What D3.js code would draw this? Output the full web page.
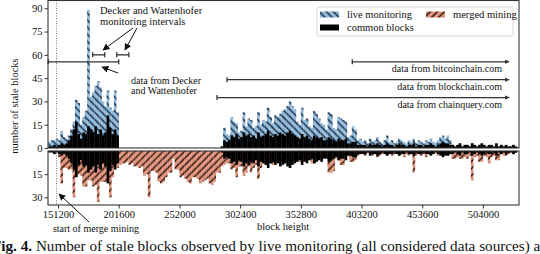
<!DOCTYPE html>
<html lang="en">
<head>
<meta charset="UTF-8">
<title>Stale blocks</title>
<script src="https://cdnjs.cloudflare.com/ajax/libs/d3/7.8.5/d3.min.js"></script>
<style>
    body { margin: 0; padding: 0; background: #fff; overflow: hidden; }
    svg { display: block; font-family: "Liberation Serif", "DejaVu Serif", serif; }
</style>
</head>
<body>
<div id="chart"></div>
<script>
    // bins of one difficulty period (2016 blocks), first bin starts at block 143136
    const binStart = 143136;
    const binSize = 2016;

    // stale blocks seen by live monitoring (per bin)
    const liveMonitoring = [
        4,5,5,6,5,11,7,6,8,12,17,31,29,15,20,24,89,33,36,40,43,39,30,27,37,26,24,37,23,
        0,0,0,0,0,0,0,0,0,0,0,0,0,0,0,0,0,0,0,0,0,0,0,0,0,0,0,0,0,0,0,0,0,0,0,0,0,0,0,0,0,0,
        1,13,9,8,20,17,16,10,11,23,14,19,18,13,14,23,15,18,17,26,20,16,21,20,22,24,25,27,30,27,
        25,17,15,26,18,19,14,13,24,22,19,16,15,12,23,22,13,12,20,19,18,17,7,8,14,12,5,6,
        4,5,3,6,4,5,7,4,3,5,8,4,5,3,4,6,5,4,3,5,4,6,3,5,4,3,5,4,6,4,3,5,7,8,6,8,5,
        2,1,2,3,1,2,2,1,3,2,1,2,3,2,1,2,2,1,3,1,2,1,2,1,1,2,1
    ];
    // blocks found in both data sets
    const commonBlocks = [
        1,1,2,1,2,3,2,3,5,8,12,17,9,6,10,9,14,12,10,14,9,12,8,10,21,13,9,12,8,
        0,0,0,0,0,0,0,0,0,0,0,0,0,0,0,0,0,0,0,0,0,0,0,0,0,0,0,0,0,0,0,0,0,0,0,0,0,0,0,0,0,0,
        1,5,4,5,8,7,9,6,7,10,8,9,7,8,6,10,7,8,9,11,8,7,9,8,10,9,8,10,11,9,
        8,7,6,9,7,8,6,5,8,7,6,7,5,5,7,6,5,4,6,5,5,6,3,3,4,4,2,2,
        2,2,1,3,2,2,3,2,1,2,3,2,2,1,2,3,2,2,1,2,2,3,1,2,2,1,2,2,3,2,1,2,3,4,3,3,2,
        2,1,2,3,1,2,2,1,3,2,1,2,3,2,1,2,2,1,3,1,2,1,2,1,1,2,1
    ];
    // stale blocks from merged mining
    const mergedMining = [
        0,0,0,0,
        4,21,11,11,12,12,30,16,15,16,23,23,19,19,23,22,33,20,20,20,17,30,17,11,11,
        9,8,8,7,9,8,10,10,11,10,16,15,30,13,13,14,20,21,20,17,14,14,5,12,12,17,16,18,20,21,
        17,17,18,21,20,19,18,21,22,20,14,14,
        10,9,8,8,12,11,17,10,10,16,14,10,14,11,9,18,11,8,8,7,8,9,7,7,6,7,8,6,5,5,
        6,5,7,5,5,5,4,8,8,4,4,5,3,4,14,14,13,5,6,9,9,4,3,7,7,6,3,2,
        2,3,1,2,3,2,4,3,2,1,3,2,3,2,2,3,2,4,2,3,2,
        14,
        3,2,3,2,4,2,3,2,1,3,2,3,2,3,2,
        5,5,4,5,5,4,5,3,19,4,3,7,7,3,4,8,4,3,6,6,2,3,3,2,1,2,1
    ];

    const xTicks = [151200, 201600, 252000, 302400, 352800, 403200, 453600, 504000];
    const yTopTicks = [0, 15, 30, 45, 60, 75, 90];
    const yBottomTicks = [15, 30];

    const mergeMiningStart = 150000;
    const deckerRange = [143136, 201600];
    const deckerIntervals = [[180000, 190000], [200000, 210000]];
    const sourceNames = ["data from bitcoinchain.com", "data from blockchain.com", "data from chainquery.com"];
    const sourceStarts = [395500, 291500, 283200];
    const sourceEnd = 524000;

    const width = 540, height = 254;
    const svg = d3.select("#chart").append("svg")
        .attr("width", width).attr("height", height);

    const x = d3.scaleLinear().domain([142900, 533900]).range([48, 519]);
    const yTop = d3.scaleLinear().domain([0, 95]).range([148, 0.5]);
    const yBot = d3.scaleLinear().domain([0, 35]).range([151, 205]);

    // hatch patterns
    const defs = svg.append("defs");
    function hatch(id, bg, fg, angle) {
        const p = defs.append("pattern").attr("id", id)
            .attr("patternUnits", "userSpaceOnUse")
            .attr("width", 5).attr("height", 5)
            .attr("patternTransform", `rotate(${angle})`);
        p.append("rect").attr("width", 5).attr("height", 5).attr("fill", bg);
        p.append("line").attr("x1", 2.5).attr("x2", 2.5).attr("y1", 0).attr("y2", 5)
            .attr("stroke", fg).attr("stroke-width", 1.5);
    }
    hatch("liveHatch", "#94bfdf", "#14223a", -45);
    hatch("mergeHatch", "#e6977f", "#2a1208", 45);
    defs.append("marker").attr("id", "arrow")
        .attr("viewBox", "0 0 10 10").attr("refX", 9).attr("refY", 5)
        .attr("markerWidth", 7).attr("markerHeight", 7).attr("orient", "auto")
        .append("path").attr("d", "M0,0 L10,5 L0,10 z").attr("fill", "#111");

    const bins = d3.range(liveMonitoring.length).map(i => ({
        b0: binStart + i * binSize,
        b1: binStart + (i + 1) * binSize,
        live: liveMonitoring[i],
        common: commonBlocks[i],
        merged: mergedMining[i]
    }));

    // top panel bars
    const topG = svg.append("g");
    topG.selectAll("rect.live").data(bins.filter(d => d.live > 0)).join("rect")
        .attr("x", d => x(d.b0)).attr("width", d => x(d.b1) - x(d.b0) + 0.2)
        .attr("y", d => yTop(d.live)).attr("height", d => yTop(0) - yTop(d.live))
        .attr("fill", "url(#liveHatch)");
    topG.selectAll("rect.common").data(bins.filter(d => d.common > 0)).join("rect")
        .attr("x", d => x(d.b0)).attr("width", d => x(d.b1) - x(d.b0) + 0.2)
        .attr("y", d => yTop(d.common)).attr("height", d => yTop(0) - yTop(d.common))
        .attr("fill", "#000");

    // bottom panel bars
    const botG = svg.append("g");
    botG.selectAll("rect.merged").data(bins.filter(d => d.merged > 0)).join("rect")
        .attr("x", d => x(d.b0)).attr("width", d => x(d.b1) - x(d.b0) + 0.2)
        .attr("y", yBot(0)).attr("height", d => yBot(d.merged) - yBot(0))
        .attr("fill", "url(#mergeHatch)");
    botG.selectAll("rect.common").data(bins.filter(d => d.common > 0)).join("rect")
        .attr("x", d => x(d.b0)).attr("width", d => x(d.b1) - x(d.b0) + 0.2)
        .attr("y", yBot(0)).attr("height", d => yBot(d.common) - yBot(0))
        .attr("fill", "#000");

    // start of merge mining (dotted)
    svg.append("line")
        .attr("x1", x(mergeMiningStart)).attr("x2", x(mergeMiningStart))
        .attr("y1", yTop(95)).attr("y2", yBot(35))
        .attr("stroke", "#777").attr("stroke-width", 1).attr("stroke-dasharray", "1,1.5");

    // frames
    const frameColor = "#333";
    svg.append("rect").attr("x", 48).attr("y", yTop(95)).attr("width", 471).attr("height", yTop(0) - yTop(95))
        .attr("fill", "none").attr("stroke", frameColor).attr("stroke-width", 1.1);
    svg.append("rect").attr("x", 48).attr("y", yBot(0)).attr("width", 471).attr("height", yBot(35) - yBot(0))
        .attr("fill", "none").attr("stroke", frameColor).attr("stroke-width", 1.1);

    // axes
    function styleAxis(g) {
        g.select(".domain").remove();
        g.selectAll("line").attr("stroke", frameColor).attr("stroke-width", 1);
        g.selectAll("text").attr("font-family", "Liberation Serif, serif").attr("font-size", 10.5).attr("fill", "#111");
    }
    svg.append("g").attr("transform", "translate(48,0)")
        .call(d3.axisLeft(yTop).tickValues(yTopTicks).tickSize(3.5).tickPadding(2))
        .call(styleAxis);
    svg.append("g").attr("transform", "translate(48,0)")
        .call(d3.axisLeft(yBot).tickValues(yBottomTicks).tickSize(3.5).tickPadding(2))
        .call(styleAxis);
    svg.append("g").attr("transform", `translate(0,${yBot(35)})`)
        .call(d3.axisBottom(x).tickValues(xTicks).tickFormat(d3.format("d")).tickSize(3.5).tickPadding(2))
        .call(styleAxis);

    svg.append("text").attr("transform", "translate(18,106) rotate(-90)")
        .attr("text-anchor", "middle").attr("font-size", 10.5).attr("fill", "#111")
        .text("number of stale blocks");
    svg.append("text").attr("x", 283).attr("y", 230)
        .attr("text-anchor", "middle").attr("font-size", 10.5).attr("fill", "#111")
        .text("block height");

    // range lines
    const ann = svg.append("g").attr("stroke", "#333").attr("stroke-width", 1.3);
    function rangeLine(b0, b1, v, capEnd) {
        const yy = yTop(v);
        ann.append("line").attr("x1", x(b0)).attr("x2", x(b1)).attr("y1", yy).attr("y2", yy);
        ann.append("line").attr("x1", x(b0)).attr("x2", x(b0)).attr("y1", yy - 2.5).attr("y2", yy + 2.5);
        if (capEnd) ann.append("line").attr("x1", x(b1)).attr("x2", x(b1)).attr("y1", yy - 2.5).attr("y2", yy + 2.5);
    }
    rangeLine(deckerRange[0], deckerRange[1], 55.5, true);
    deckerIntervals.forEach(iv => rangeLine(iv[0], iv[1], 60, true));
    const sourceLevels = [55.5, 44, 32.5];
    sourceNames.forEach((name, i) => {
        rangeLine(sourceStarts[i], sourceEnd, sourceLevels[i], false);
        ann.append("path")
            .attr("d", `M${x(sourceEnd) + 3},${yTop(sourceLevels[i])} l-5,-2 l0,4 z`)
            .attr("fill", "#333").attr("stroke", "none");
        svg.append("text").attr("x", 502).attr("y", yTop(sourceLevels[i]) + 10)
            .attr("text-anchor", "end").attr("font-size", 10).attr("fill", "#111").text(name);
    });

    // annotations
    function arrow(x1, y1, x2, y2) {
        svg.append("line").attr("x1", x1).attr("y1", y1).attr("x2", x2).attr("y2", y2)
            .attr("stroke", "#111").attr("stroke-width", 1).attr("marker-end", "url(#arrow)");
    }
    const note = svg.append("g").attr("font-size", 10.5).attr("fill", "#111");
    note.append("text").attr("x", 100).attr("y", 14).text("Decker and Wattenhofer");
    note.append("text").attr("x", 100).attr("y", 25).text("monitoring intervals");
    arrow(133, 28, 103, 50);
    arrow(137, 28, 125, 50);
    note.append("text").attr("x", 131).attr("y", 84).attr("font-size", 10).text("data from Decker");
    note.append("text").attr("x", 131).attr("y", 94).attr("font-size", 10).text("and Wattenhofer");
    arrow(118, 73, 102, 67);
    note.append("text").attr("x", 96).attr("y", 232).attr("text-anchor", "middle").attr("font-size", 10).text("start of merge mining");
    arrow(89, 222, 59, 194);

    // legend
    const lg = svg.append("g");
    lg.append("rect").attr("x", 317).attr("y", 7).attr("width", 196).attr("height", 29).attr("rx", 2)
        .attr("fill", "#fff").attr("fill-opacity", 0.9).attr("stroke", "#ccc").attr("stroke-width", 0.8);
    const legendItems = [
        { label: "live monitoring", fill: "url(#liveHatch)", lx: 320, ly: 11.5 },
        { label: "common blocks", fill: "#000", lx: 320, ly: 24.5 },
        { label: "merged mining", fill: "url(#mergeHatch)", lx: 426, ly: 11.5 }
    ];
    legendItems.forEach(it => {
        lg.append("rect").attr("x", it.lx).attr("y", it.ly).attr("width", 19).attr("height", 6).attr("fill", it.fill);
        lg.append("text").attr("x", it.lx + 27).attr("y", it.ly + 6.5).attr("font-size", 10.5).attr("fill", "#111").text(it.label);
    });

    // caption (cut at both edges, as in the source figure)
    const cap = svg.append("text").attr("x", -8).attr("y", 251).attr("font-size", 15.2).attr("fill", "#111");
    cap.append("tspan").attr("font-weight", "bold").text("Fig. 4.");
    cap.append("tspan").text(" Number of stale blocks observed by live monitoring (all considered data sources) and merged mining");
</script>
</body>
</html>
